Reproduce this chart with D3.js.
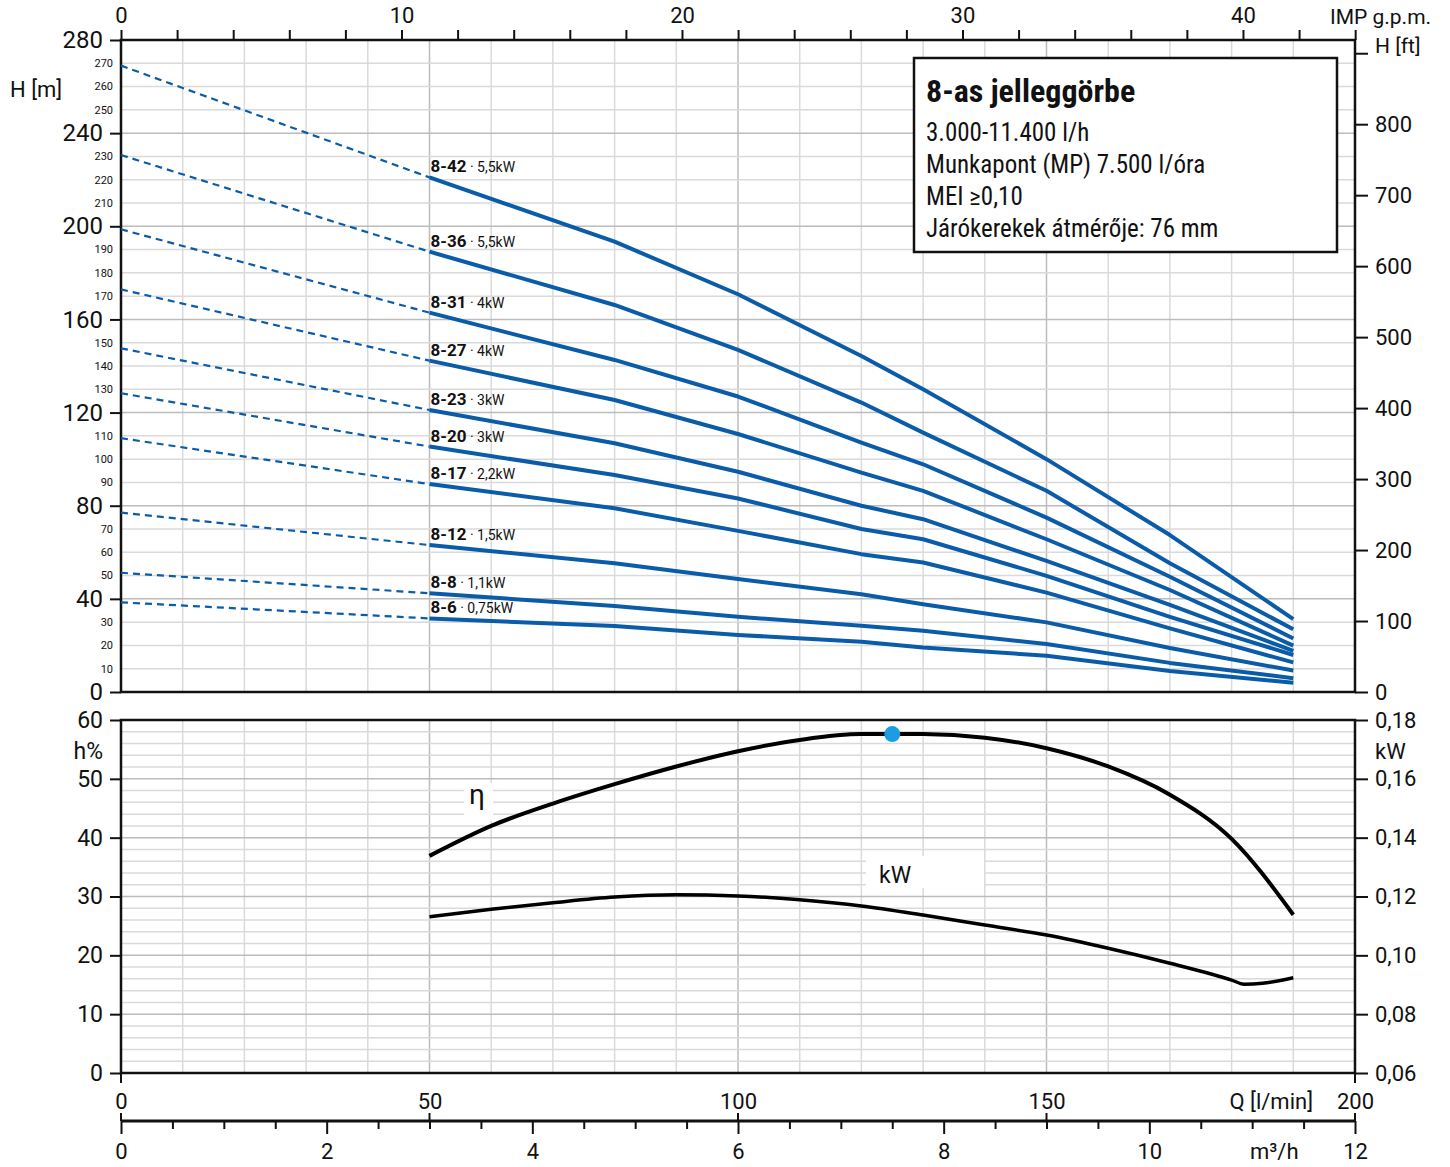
<!DOCTYPE html>
<html>
<head>
<meta charset="utf-8">
<script src="https://cdn.jsdelivr.net/npm/d3@7"></script>
<style>
  body { margin: 0; background: #fff; }
  text { font-family: Roboto, "Noto Sans", sans-serif; fill: #111; }
  .box text { font-family: "Liberation Sans Narrow", "Arial Narrow", Roboto, sans-serif; font-stretch: condensed; }
</style>
</head>
<body>
<script>

var flowQ = [50, 80, 100, 120, 130, 150, 170, 190];

var pumpNames = ['8-42', '8-36', '8-31', '8-27', '8-23', '8-20', '8-17', '8-12', '8-8', '8-6'];
var pumpPower = ['5,5kW', '5,5kW', '4kW', '4kW', '3kW', '3kW', '2,2kW', '1,5kW', '1,1kW', '0,75kW'];

// head at Q = 0 (start of the dashed part)
var headAtZero = [269, 230.6, 198.7, 172.9, 147.6, 128.3, 109, 77, 51.2, 38.5];

// head [m] at flowQ for each pump
var headValues = [
  [221.0, 193.4, 170.8, 144.3, 130.0, 100.0, 67.4, 31.3],
  [189.1, 166.2, 146.9, 124.3, 111.4, 86.4, 55.3, 26.9],
  [162.9, 142.6, 126.9, 107.1, 97.8, 74.9, 49.5, 23.0],
  [142.3, 125.4, 110.8, 94.2, 86.4, 65.6, 43.8, 19.9],
  [121.1, 106.8, 94.6, 80.0, 74.2, 56.3, 37.4, 17.7],
  [105.4, 93.2, 83.1, 70.0, 65.6, 49.9, 32.3, 15.9],
  [89.3, 78.9, 69.2, 59.2, 55.6, 42.7, 27.3, 12.7],
  [63.1, 55.3, 48.5, 42.0, 37.7, 29.9, 18.9, 9.2],
  [42.4, 36.9, 32.3, 28.4, 26.3, 20.6, 12.5, 5.9],
  [31.6, 28.3, 24.5, 21.6, 19.1, 15.6, 9.0, 4.0]
];

// efficiency curve
var effQ = [50, 60, 70, 80, 90, 100, 110, 120, 130, 140, 150, 160, 170, 180, 190];
var effValues = [36.9, 42.0, 45.8, 49.1, 52.1, 54.7, 56.6, 57.6, 57.6, 57.0, 55.2, 52.1, 47.3, 39.8, 26.9];

// power curve
var kwQ = [50, 60, 70, 80, 90, 100, 110, 120, 130, 140, 150, 160, 170, 180, 182, 185, 190];
var kwValues = [0.1131, 0.1157, 0.1179, 0.1198, 0.1206, 0.1202, 0.1189, 0.1168, 0.1137, 0.1103, 0.1069, 0.1024, 0.0973, 0.0916, 0.0902, 0.0905, 0.0924];

// operating point
var bepQ = 125, bepEff = 57.6;

var boxTitle = '8-as jelleggörbe';
var boxLines = ['3.000-11.400 l/h', 'Munkapont (MP) 7.500 l/óra', 'MEI \u22650,10', 'Járókerekek átmérője: 76 mm'];

var blue = '#0a5ca8';

var svg = d3.select('body').append('svg')
  .attr('width', 1450)
  .attr('height', 1167)
  .style('display', 'block');

var x = d3.scaleLinear().domain([0, 200]).range([121, 1355]);
var xGpm = d3.scaleLinear().domain([0, 200 / 4.54609]).range([121, 1355]);
var xM3 = d3.scaleLinear().domain([0, 12]).range([121, 1355]);
var yH = d3.scaleLinear().domain([0, 280]).range([692, 40]);
var yFt = d3.scaleLinear().domain([0, 280 / 0.3048]).range([692, 40]);
var yEta = d3.scaleLinear().domain([0, 60]).range([1073, 720]);
var yKw = d3.scaleLinear().domain([0.06, 0.18]).range([1073, 720]);

var comma = function(d) { return d3.format('.2f')(d).replace('.', ','); };

// ---- grids ----
var grid = svg.append('g');

function vGrid(y0, y1) {
  grid.selectAll(null).data(d3.range(10, 200, 10)).enter().append('line')
    .attr('x1', function(d) { return x(d); })
    .attr('x2', function(d) { return x(d); })
    .attr('y1', y0).attr('y2', y1)
    .attr('stroke', function(d) { return d % 50 === 0 ? '#bcbcbc' : '#dadada'; })
    .attr('stroke-width', 1.5);
}
vGrid(40, 692);
vGrid(720, 1073);

grid.selectAll(null).data(d3.range(10, 280, 10)).enter().append('line')
  .attr('x1', 121).attr('x2', 1355)
  .attr('y1', function(d) { return yH(d); })
  .attr('y2', function(d) { return yH(d); })
  .attr('stroke', function(d) { return d % 40 === 0 ? '#bcbcbc' : '#dadada'; })
  .attr('stroke-width', 1.5);

grid.selectAll(null).data(d3.range(2, 60, 2)).enter().append('line')
  .attr('x1', 121).attr('x2', 1355)
  .attr('y1', function(d) { return yEta(d); })
  .attr('y2', function(d) { return yEta(d); })
  .attr('stroke', function(d) { return d % 10 === 0 ? '#bcbcbc' : '#dadada'; })
  .attr('stroke-width', 1.5);

// white patches behind the curve labels
svg.append('rect').attr('x', 464).attr('y', 783).attr('width', 29).attr('height', 38).attr('fill', '#fff');
svg.append('rect').attr('x', 866).attr('y', 856).attr('width', 118).attr('height', 32).attr('fill', '#fff');

// ---- axes ----
function styleAxis(g, size) {
  g.select('.domain').remove();
  g.selectAll('line').attr('stroke', '#111').attr('stroke-width', 2);
  g.selectAll('text').attr('font-size', size).attr('font-family', null).attr('fill', '#111');
}

// top chart left, big labels
svg.append('g').attr('transform', 'translate(121,0)')
  .call(d3.axisLeft(yH).tickValues(d3.range(0, 281, 40)).tickSize(11).tickPadding(7))
  .call(styleAxis, 24);

// small in-between labels
svg.append('g').selectAll('text')
  .data(d3.range(10, 280, 10).filter(function(d) { return d % 40 !== 0; }))
  .enter().append('text')
  .attr('x', 113)
  .attr('y', function(d) { return yH(d); })
  .attr('dy', '0.35em')
  .attr('text-anchor', 'end')
  .attr('font-size', 11)
  .text(function(d) { return d; });

// right H[ft]
svg.append('g').attr('transform', 'translate(1355,0)')
  .call(d3.axisRight(yFt).tickValues(d3.range(0, 901, 100)).tickSize(13).tickPadding(7)
    .tickFormat(function(d) { return d === 900 ? '' : d; }))
  .call(styleAxis, 22);

// top IMP g.p.m.
svg.append('g').attr('transform', 'translate(0,40)')
  .call(d3.axisTop(xGpm).tickValues(d3.range(0, 45, 2)).tickSize(10).tickPadding(7)
    .tickFormat(function(d) { return d % 10 === 0 ? d : ''; }))
  .call(styleAxis, 22);

// bottom chart left %
svg.append('g').attr('transform', 'translate(121,0)')
  .call(d3.axisLeft(yEta).tickValues(d3.range(0, 61, 10)).tickSize(11).tickPadding(7))
  .call(styleAxis, 23);

// bottom chart right kW
svg.append('g').attr('transform', 'translate(1355,0)')
  .call(d3.axisRight(yKw).tickValues(d3.range(0.06, 0.181, 0.02)).tickSize(13).tickPadding(7).tickFormat(comma))
  .call(styleAxis, 22);

// Q [l/min] labels
svg.append('g').attr('transform', 'translate(0,1073)')
  .call(d3.axisBottom(x).tickValues([0, 50, 100, 150, 200]).tickSize(0).tickPadding(20))
  .call(styleAxis, 22);

svg.append('g').selectAll('line').data([0, 200]).enter().append('line')
  .attr('x1', function(d) { return x(d); }).attr('x2', function(d) { return x(d); })
  .attr('y1', 1073).attr('y2', 1083)
  .attr('stroke', '#111').attr('stroke-width', 2);

svg.append('g').selectAll('line').data([0, 50, 100, 150, 200]).enter().append('line')
  .attr('x1', function(d) { return x(d); }).attr('x2', function(d) { return x(d); })
  .attr('y1', 1113).attr('y2', 1121)
  .attr('stroke', '#111').attr('stroke-width', 2);

// m3/h axis
var m3Axis = svg.append('g').attr('transform', 'translate(0,1121)')
  .call(d3.axisBottom(xM3).tickValues(d3.range(0, 12.01, 0.5)).tickSize(8).tickPadding(14)
    .tickFormat(function(d) { return d % 2 === 0 ? d : ''; }))
  .call(styleAxis, 22);
m3Axis.selectAll('.tick line').filter(function(d) { return d % 2 === 0; }).attr('y2', 13);
m3Axis.selectAll('.tick text').attr('y', 22);

svg.append('line')
  .attr('x1', 121).attr('x2', 1355).attr('y1', 1121).attr('y2', 1121)
  .attr('stroke', '#111').attr('stroke-width', 3);

// axis titles
var titles = [
  { t: 'H [m]', x: 10, y: 97, s: 22, a: 'start' },
  { t: 'IMP g.p.m.', x: 1330, y: 24, s: 21, a: 'start' },
  { t: 'H [ft]', x: 1375, y: 53, s: 21, a: 'start' },
  { t: 'h%', x: 103, y: 759, s: 23, a: 'end' },
  { t: 'kW', x: 1375, y: 759, s: 22, a: 'start' },
  { t: 'Q [l/min]', x: 1313, y: 1109, s: 22, a: 'end' },
  { t: 'm\u00b3/h', x: 1250, y: 1159, s: 22, a: 'start' }
];
svg.append('g').selectAll('text').data(titles).enter().append('text')
  .attr('x', function(d) { return d.x; })
  .attr('y', function(d) { return d.y; })
  .attr('font-size', function(d) { return d.s; })
  .attr('text-anchor', function(d) { return d.a; })
  .text(function(d) { return d.t; });

// chart borders
[[40, 692], [720, 1073]].forEach(function(r) {
  svg.append('rect')
    .attr('x', 121).attr('y', r[0])
    .attr('width', 1234).attr('height', r[1] - r[0])
    .attr('fill', 'none').attr('stroke', '#111').attr('stroke-width', 2.5);
});

// ---- pump curves ----
var line = d3.line()
  .x(function(d) { return x(d[0]); })
  .y(function(d) { return yH(d[1]); });

var curves = svg.append('g');
headValues.forEach(function(vals, i) {
  curves.append('path')
    .attr('d', line([[0, headAtZero[i]], [flowQ[0], vals[0]]]))
    .attr('fill', 'none').attr('stroke', blue)
    .attr('stroke-width', 2.2).attr('stroke-dasharray', '7,5');
  curves.append('path')
    .attr('d', line(flowQ.map(function(q, j) { return [q, vals[j]]; })))
    .attr('fill', 'none').attr('stroke', blue)
    .attr('stroke-width', 4).attr('stroke-linejoin', 'round');

  var lbl = curves.append('text')
    .attr('x', x(flowQ[0]) + 1)
    .attr('y', yH(vals[0]) - 5);
  lbl.append('tspan').attr('font-weight', 'bold').attr('font-size', 17).text(pumpNames[i]);
  lbl.append('tspan').attr('font-size', 14).text(' \u00b7 ' + pumpPower[i]);
});

// ---- efficiency / power ----
var effLine = d3.line().curve(d3.curveMonotoneX)
  .x(function(d, i) { return x(effQ[i]); })
  .y(function(d) { return yEta(d); });
var kwLine = d3.line().curve(d3.curveMonotoneX)
  .x(function(d, i) { return x(kwQ[i]); })
  .y(function(d) { return yKw(d); });

svg.append('path').attr('d', effLine(effValues))
  .attr('fill', 'none').attr('stroke', '#000').attr('stroke-width', 4);
svg.append('path').attr('d', kwLine(kwValues))
  .attr('fill', 'none').attr('stroke', '#000').attr('stroke-width', 3.5);

svg.append('circle')
  .attr('cx', x(bepQ)).attr('cy', yEta(bepEff)).attr('r', 8)
  .attr('fill', '#1b9de2');

svg.append('text').attr('x', 469).attr('y', 804).attr('font-size', 28).text('\u03b7');
svg.append('text').attr('x', 879).attr('y', 883).attr('font-size', 23).text('kW');

// ---- info box ----
var box = svg.append('g').attr('class', 'box');
box.append('rect')
  .attr('x', 914).attr('y', 58).attr('width', 423).attr('height', 194)
  .attr('fill', '#fff').attr('stroke', '#111').attr('stroke-width', 2.5);
box.append('text')
  .attr('x', 926).attr('y', 102)
  .attr('font-size', 32).attr('font-weight', 'bold')
  .text(boxTitle);
box.selectAll('text.l').data(boxLines).enter().append('text')
  .attr('class', 'l')
  .attr('x', 926)
  .attr('y', function(d, i) { return 141 + i * 32; })
  .attr('font-size', 25)
  .text(function(d) { return d; });

</script>
</body>
</html>
